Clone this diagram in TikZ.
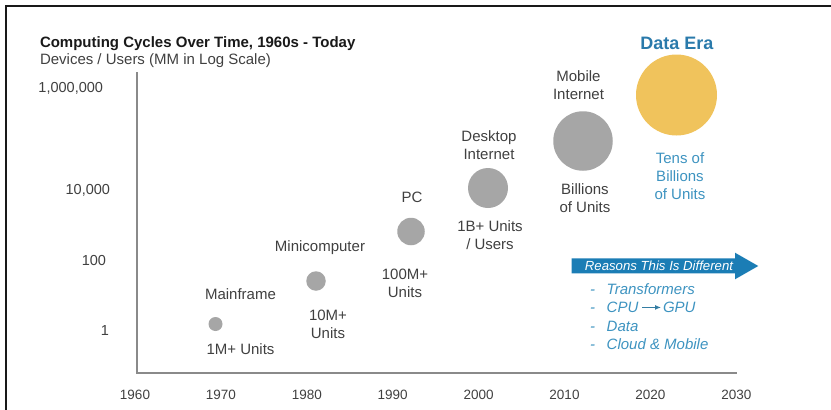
\documentclass[tikz,border=0pt]{standalone}
\usepackage{fontspec}
\setmainfont{Liberation Sans}
\usetikzlibrary{arrows.meta}
\definecolor{axisgray}{HTML}{8A8A8A}
\definecolor{txtgray}{HTML}{404040}
\definecolor{bubblegray}{HTML}{A6A6A6}
\definecolor{datagold}{HTML}{F0C35C}
\definecolor{eraBlue}{HTML}{2A7AAB}
\definecolor{lightBlue}{HTML}{3D93C0}
\definecolor{arrowBlue}{HTML}{1B7DB5}
\newcommand\fsz[2]{\fontsize{#1}{#2}\selectfont}
\begin{document}
\begin{tikzpicture}[x=1pt,y=-1pt,
  every node/.style={inner sep=0pt,outer sep=0pt,text=txtgray},
  ticklbl/.style={font=\fsz{14.5}{17},anchor=base east},
  yearlbl/.style={font=\fsz{13.5}{16},anchor=base},
  lbl/.style={font=\fsz{15}{17.8},align=center,anchor=base},
  bluelbl/.style={lbl,text=lightBlue},
  bubble/.style={circle,fill=bubblegray,inner sep=0pt},
  listitem/.style={font=\fsz{15}{18}\itshape,text=lightBlue,anchor=base west}]
\useasboundingbox (0,0) rectangle (831,410);
% frame
\draw[line width=2pt,black!90] (6,410) -- (6,6) -- (831,6);
% titles
\node[anchor=base west,font=\fsz{15}{18}\bfseries,text=black!90] (title) at (40,47) {Computing Cycles Over Time, 1960s - Today};
\node[anchor=base west,font=\fsz{15}{18}] (subtitle) at (40,64) {Devices / Users (MM in Log Scale)};
% axes
\coordinate (ytop) at (137,72);
\coordinate (origin) at (137,372.5);
\coordinate (xend) at (737,372.5);
\draw[axisgray,line width=2pt] (ytop) -- (origin) -- (xend);
% y labels
\node[ticklbl] (y1m) at (103,92) {1,000,000};
\node[ticklbl] (y10k) at (110,194) {10,000};
\node[ticklbl] (y100) at (106,265.5) {100};
\node[ticklbl] (y1) at (109,335) {1};
% x labels
\foreach \yr [count=\i from 0] in {1960,1970,1980,1990,2000,2010,2020,2030}
  \node[yearlbl] (yr\yr) at (135+85.9*\i,399) {\yr};
% bubbles
\node[bubble,minimum size=14pt] (mainframe) at (215.5,324) {};
\node[bubble,minimum size=19.5pt] (mini) at (316,281) {};
\node[bubble,minimum size=27.5pt] (pc) at (411,231.5) {};
\node[bubble,minimum size=40pt] (desktop) at (488,188) {};
\node[bubble,minimum size=59.5pt] (mobile) at (583,141) {};
\node[circle,fill=datagold,minimum size=81pt] (dataera) at (676.5,95) {};
% labels (base anchor = baseline of the last line)
\node[lbl] (lmain) at (240.5,299) {Mainframe};
\node[lbl] (umain) at (240.5,354) {1M+ Units};
\node[lbl] (lmini) at (320,251.7) {Minicomputer};
\node[lbl] (umini) at (328,338.3) {10M+\\Units};
\node[lbl] (lpc) at (412,202.7) {PC};
\node[lbl] (upc) at (405,297.3) {100M+\\Units};
\node[lbl] (ldesk) at (489,159.7) {Desktop\\Internet};
\node[lbl] (udesk) at (490,249.3) {1B+ Units\\/ Users};
\node[lbl] (lmob) at (578.5,99.3) {Mobile\\Internet};
\node[lbl] (umob) at (585,212.5) {Billions\\of Units};
\node[anchor=base,font=\fsz{18}{21}\bfseries,text=eraBlue] (ldata) at (677,49.3) {Data Era};
\node[bluelbl] (udata) at (680,199) {Tens of\\Billions\\of Units};
% reasons arrow
\fill[arrowBlue] (571.7,258.3) -- (735,258.3) -- (735,252.7) -- (758.3,266) -- (735,279.3) -- (735,273.3) -- (571.7,273.3) -- cycle;
\node[anchor=base,font=\fsz{13.2}{15}\itshape,text=white] (reasons) at (659,270.7) {Reasons This Is Different};
% list
\node[listitem] (d1) at (590,294.3) {-};
\node[listitem] (d2) at (590,312.6) {-};
\node[listitem] (d3) at (590,331) {-};
\node[listitem] (d4) at (590,349) {-};
\node[listitem] (i1) at (606.7,294.3) {Transformers};
\node[listitem] (cpu) at (606.7,312.6) {CPU};
\node[listitem] (gpu) at (663,312.6) {GPU};
\node[listitem] (i3) at (606.7,331) {Data};
\node[listitem] (i4) at (606.7,349) {Cloud \& Mobile};
\draw[-{Latex[length=6pt,width=5pt]},line width=1pt,lightBlue!85!black,shorten <=4pt,shorten >=2pt] (cpu) -- (gpu);
\end{tikzpicture}
\end{document}
